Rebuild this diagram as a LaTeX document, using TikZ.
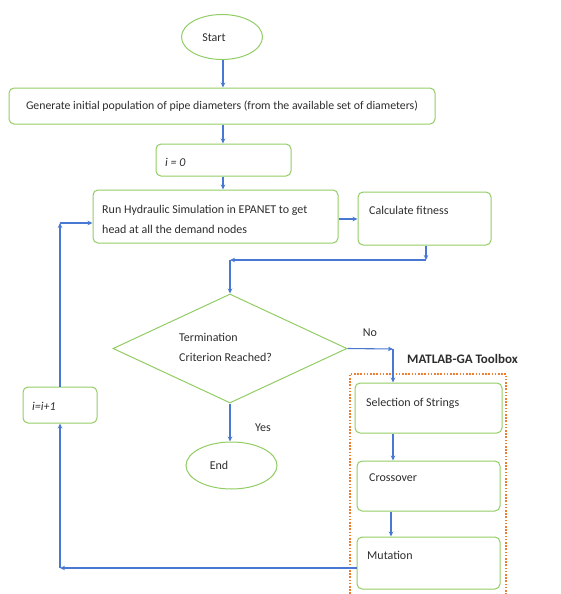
\documentclass[tikz,border=0pt]{standalone}
\usepackage{fontspec}
\setmainfont{Carlito}
\usetikzlibrary{shapes.geometric,arrows.meta}
\definecolor{gr}{RGB}{146,204,100}
\definecolor{bl}{RGB}{72,120,210}
\definecolor{org}{RGB}{237,125,49}
\definecolor{tx}{RGB}{45,45,45}
\begin{document}
\begin{tikzpicture}[x=1pt,y=-1pt,
  box/.style={draw=gr,line width=1pt,rounded corners=5pt,inner sep=0pt,minimum width=#1},
  oval/.style={draw=gr,line width=1pt,ellipse,inner sep=0pt},
  lbl/.style={text=tx,font=\fontsize{12}{14}\selectfont,inner sep=0pt},
  arr/.style={draw=bl,line width=1.1pt,-{Stealth[length=5pt,width=4.5pt]}},
  ln/.style={draw=bl,line width=1.1pt}]
\useasboundingbox (0,0) rectangle (560,594);
% nodes
\node[oval,minimum width=81pt,minimum height=45pt] (start) at (222,37) {};
\node[lbl] (starttxt) at (214,38) {Start};
\node[box=426pt,minimum height=36pt,lbl,font=\fontsize{11.8}{14}\selectfont] (gen) at (222,106) {Generate initial population of pipe diameters (from the available set of diameters)};
\node[box=135pt,minimum height=32pt] (i0) at (223.5,160) {};
\node[lbl,anchor=west] (i0txt) at (165,162) {\textit{i = 0}};
\node[box=245pt,minimum height=53pt] (run) at (215.5,216.5) {};
\node[lbl,anchor=west,align=left] (runtxt) at (102,219) {Run Hydraulic Simulation in EPANET to get\\[6pt]head at all the demand nodes};
\node[box=133pt,minimum height=53pt] (calc) at (424.5,218.5) {};
\node[lbl,anchor=west] (calctxt) at (369,210) {Calculate fitness};
\node[diamond,draw=gr,line width=1pt,inner sep=0pt,minimum width=234pt,minimum height=109pt] (dia) at (230,348.5) {};
\node[lbl,anchor=west,align=left] (diatxt) at (179,347) {Termination\\[6pt]Criterion Reached?};
\node[lbl] (no) at (370,333) {No};
\node[lbl,anchor=west,font=\fontsize{13}{14}\selectfont\bfseries] (tb) at (407,359) {MATLAB-GA Toolbox};
\node[box=147pt,minimum height=50pt] (sel) at (428.5,408) {};
\node[lbl,anchor=west] (seltxt) at (366,403) {Selection of Strings};
\node[box=143pt,minimum height=50pt] (cross) at (428.5,486) {};
\node[lbl,anchor=west] (crosstxt) at (369,478) {Crossover};
\node[box=143pt,minimum height=52pt] (mut) at (428.5,563) {};
\node[lbl,anchor=west] (muttxt) at (367,555) {Mutation};
\node[box=74pt,minimum height=36pt] (ii) at (60,405) {};
\node[lbl,anchor=west] (iitxt) at (32,406) {\textit{i=i+1}};
\node[oval,minimum width=91pt,minimum height=47pt] (end) at (231.5,465.5) {};
\node[lbl] (endtxt) at (219,465) {End};
\node[lbl] (yes) at (263,428) {Yes};
% dotted toolbox frame
\draw[org,line width=1.6pt,dash pattern=on 1.6pt off 1.6pt] (350,594) -- (350,374) -- (506,374) -- (506,594);
% coordinates
\coordinate (j1) at (426,260);
\coordinate (j2) at (230,260);
\coordinate (n1) at (393,349);
\coordinate (m1) at (60,568);
\coordinate (r1) at (60,223);
% connectors
\draw[arr] (start.south -| 223,0) -- (gen.north -| 223,0);
\draw[arr] (gen.south -| 223,0) -- (i0.north -| 223,0);
\draw[arr] (i0.south -| 223,0) -- (run.north -| 223,0);
\draw[arr] (run.east |- 0,219) -- (calc.west |- 0,219);
\draw[arr] (calc.south -| j1) -- (j1);
\draw[arr] (j1) -- (j2);
\draw[arr] (j2) -- (dia.north);
\draw[arr] (dia.east) -- (n1);
\draw[arr] (n1) -- (sel.north -| n1);
\draw[arr] (dia.south) -- (end.north -| dia.south);
\draw[arr] (sel.south -| n1) -- (cross.north -| n1);
\draw[arr] (cross.south -| 391,0) -- (mut.north -| 391,0);
\draw[arr] (mut.west |- m1) -- (m1);
\draw[arr] (m1) -- (ii.south);
\draw[arr] (ii.north) -- (r1);
\draw[arr] (r1) -- (run.west |- r1);
\end{tikzpicture}
\end{document}
